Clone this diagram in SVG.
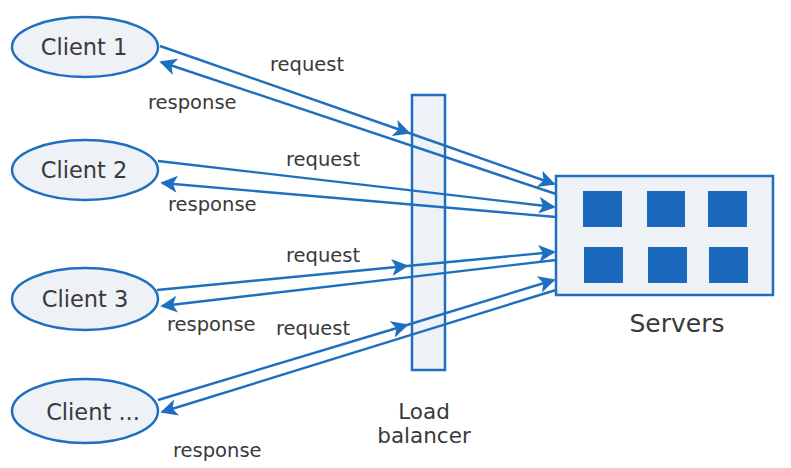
<svg xmlns="http://www.w3.org/2000/svg" width="791" height="468" viewBox="0 0 791 468">
<style>
.shape{fill:#eef1f6;stroke:#1e6fbf;stroke-width:2.5}
.sq{fill:#1a69bd}
.name{font-family:"DejaVu Sans",Verdana,sans-serif;font-size:22.5px;fill:#3a3a3a}
.lbl{font-family:"DejaVu Sans",Verdana,sans-serif;font-size:19.5px;fill:#3a3a3a}
.ln{stroke:#1e6fbf;stroke-width:2.4;fill:none}
</style>
<defs>
<marker id="ah" viewBox="0 0 10 10" refX="9" refY="5" markerWidth="17" markerHeight="17" markerUnits="userSpaceOnUse" orient="auto">
<path d="M0,0 L10,5 L0,10 L2.5,5 Z" fill="#1e6fbf"/>
</marker>
</defs>
<rect width="791" height="468" fill="#ffffff"/>
<g id="client1"><ellipse class="shape" cx="85" cy="47" rx="73" ry="30"/><text class="name" x="84" y="55" text-anchor="middle">Client 1</text></g>
<g id="client2"><ellipse class="shape" cx="85" cy="170" rx="73" ry="30"/><text class="name" x="84" y="178" text-anchor="middle">Client 2</text></g>
<g id="client3"><ellipse class="shape" cx="85" cy="299" rx="73" ry="31"/><text class="name" x="85" y="307" text-anchor="middle">Client 3</text></g>
<g id="client4"><ellipse class="shape" cx="85" cy="411" rx="73" ry="32"/><text class="name" x="93" y="420" text-anchor="middle">Client ...</text></g>
<g id="loadbalancer"><rect class="shape" x="412" y="95" width="33" height="275"/><text class="name" style="font-size:21.5px" x="424" y="419" text-anchor="middle">Load</text><text class="name" style="font-size:21.5px" x="424" y="443" text-anchor="middle">balancer</text></g>
<g id="servers">
<rect class="shape" x="556" y="176" width="217" height="119"/>
<rect class="sq" x="583" y="191" width="39" height="36"/>
<rect class="sq" x="647" y="191" width="38" height="36"/>
<rect class="sq" x="708" y="191" width="39" height="36"/>
<rect class="sq" x="584" y="247" width="39" height="36"/>
<rect class="sq" x="648" y="247" width="39" height="36"/>
<rect class="sq" x="709" y="247" width="39" height="36"/>
<text class="name" style="font-size:25px" x="677" y="332" text-anchor="middle">Servers</text>
</g>
<g id="connectors">
<line class="ln" x1="160" y1="46" x2="409" y2="133" marker-end="url(#ah)"/>
<line class="ln" x1="409" y1="133" x2="554" y2="184" marker-end="url(#ah)"/>
<line class="ln" x1="556" y1="194" x2="161" y2="62" marker-end="url(#ah)"/>
<line class="ln" x1="158" y1="161" x2="554" y2="207" marker-end="url(#ah)"/>
<line class="ln" x1="556" y1="217" x2="162" y2="183" marker-end="url(#ah)"/>
<line class="ln" x1="157" y1="290" x2="407" y2="266" marker-end="url(#ah)"/>
<line class="ln" x1="407" y1="266" x2="554" y2="252" marker-end="url(#ah)"/>
<line class="ln" x1="556" y1="260" x2="162" y2="306" marker-end="url(#ah)"/>
<line class="ln" x1="158" y1="400" x2="407" y2="325" marker-end="url(#ah)"/>
<line class="ln" x1="407" y1="325" x2="554" y2="280" marker-end="url(#ah)"/>
<line class="ln" x1="556" y1="290" x2="162" y2="412" marker-end="url(#ah)"/>
</g>
<g id="labels">
<text class="lbl" x="270" y="71">request</text>
<text class="lbl" x="148" y="109">response</text>
<text class="lbl" x="286" y="166">request</text>
<text class="lbl" x="168" y="211">response</text>
<text class="lbl" x="286" y="262">request</text>
<text class="lbl" x="167" y="331">response</text>
<text class="lbl" x="276" y="335">request</text>
<text class="lbl" x="173" y="457">response</text>
</g>
</svg>
